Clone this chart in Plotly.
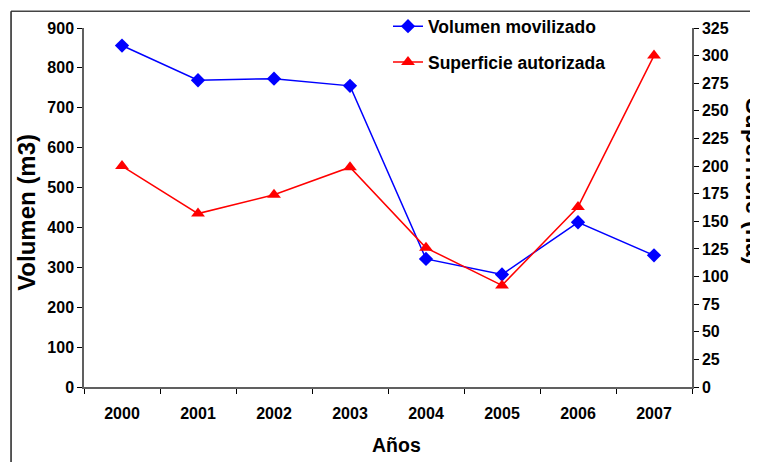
import plotly.graph_objects as go

years = ["2000", "2001", "2002", "2003", "2004", "2005", "2006", "2007"]
volumen = [856, 769, 773, 755, 321, 282, 413, 330]
superficie = [200, 157, 174, 199, 126, 92, 163, 300]
left_ticks = [0, 100, 200, 300, 400, 500, 600, 700, 800, 900]
right_ticks = [0, 25, 50, 75, 100, 125, 150, 175, 200, 225, 250, 275, 300, 325]

FONT = "Arial, 'Liberation Sans', sans-serif"

fig = go.Figure()
fig.add_trace(go.Scatter(
    x=years, y=volumen, name="Volumen movilizado", mode="lines+markers",
    line=dict(color="#0000ff", width=1.5),
    marker=dict(symbol="diamond", size=11, color="#0000ff"),
    legendgroup="a", yaxis="y"))
fig.add_trace(go.Scatter(
    x=years, y=superficie, name="Superficie autorizada", mode="lines+markers",
    line=dict(color="#ff0000", width=1.5),
    marker=dict(symbol="triangle-up", size=12, color="#ff0000"),
    legendgroup="b", yaxis="y2"))

axis_color = "#606060"
# page body adds an 8px offset, so the figure is 750x454 placed at (8, 8)
fig.update_layout(
    template="none",
    width=750, height=454,
    margin=dict(l=76, r=66, t=20, b=75, autoexpand=False),
    paper_bgcolor="white", plot_bgcolor="white",
    font=dict(family=FONT, color="black"),
    showlegend=True,
    legend=dict(x=0.5, y=1.055, xanchor="left", yanchor="top",
                bgcolor="rgba(0,0,0,0)", borderwidth=0,
                traceorder="grouped", tracegroupgap=10,
                font=dict(size=17.5, weight="bold", family=FONT)),
    xaxis=dict(
        type="category", range=[-0.5, 7.5], tickson="boundaries",
        ticks="outside", ticklen=5, tickcolor="black", tickwidth=1,
        ticklabelstandoff=11,
        showline=True, linecolor=axis_color, linewidth=1.5,
        showgrid=False, zeroline=False, automargin=False,
        tickfont=dict(size=16, weight="bold"),
    ),
    yaxis=dict(
        range=[0, 900], tickvals=left_ticks,
        ticks="outside", ticklen=5, tickcolor="black", tickwidth=1,
        showline=True, linecolor=axis_color, linewidth=1.5,
        showgrid=False, zeroline=False, automargin=False,
        tickfont=dict(size=16, weight="bold"),
    ),
    yaxis2=dict(
        range=[0, 325], tickvals=right_ticks, overlaying="y", side="right",
        ticks="outside", ticklen=5, tickcolor="black", tickwidth=1,
        showline=True, linecolor=axis_color, linewidth=1.5,
        showgrid=False, zeroline=False, automargin=False,
        tickfont=dict(size=16, weight="bold"),
    ),
    annotations=[
        dict(text="Volumen (m3)", textangle=-90, xref="paper", yref="paper",
             x=-0.0945, y=0.4866, xanchor="center", yanchor="middle", showarrow=False,
             font=dict(size=24, weight="bold", family=FONT)),
        dict(text="Superficie (ha)", textangle=90, xref="paper", yref="paper",
             x=1.1025, y=0.573, xanchor="center", yanchor="middle", showarrow=False,
             font=dict(size=24, weight="bold", family=FONT)),
        dict(text="Años", xref="paper", yref="paper",
             x=0.5134, y=-0.1624, xanchor="center", yanchor="middle", showarrow=False,
             font=dict(size=19.5, weight="bold", family=FONT)),
    ],
    shapes=[
        dict(type="line", xref="paper", yref="paper", x0=-0.12, x1=1.2,
             y0=1.0465, y1=1.0465, line=dict(color="#444444", width=1.5)),
        dict(type="line", xref="paper", yref="paper", x0=-0.12, x1=-0.12,
             y0=1.0465, y1=-0.25, line=dict(color="#222222", width=1.5)),
    ],
)

fig.write_html("out.html")
